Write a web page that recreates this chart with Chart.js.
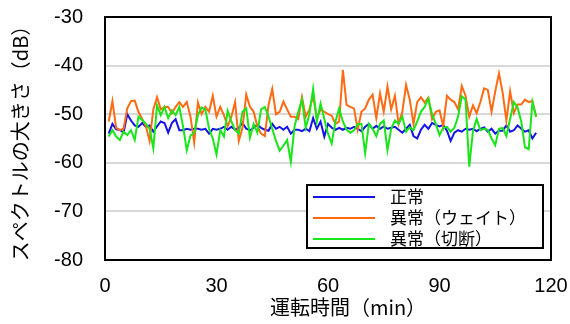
<!DOCTYPE html>
<html>
<head>
<meta charset="utf-8">
<script src="https://cdn.jsdelivr.net/npm/chart.js@4"></script>
<style>
  body { margin: 0; background: #fff; }
</style>
</head>
<body>
<canvas id="spectrum_chart" width="570" height="324"></canvas>
<script>
// 運転時間 (min)
const times = [
  1, 2, 3, 4, 5, 6, 7, 8, 9, 10, 11, 12, 13, 14, 15, 16, 17, 18, 19, 20,
  21, 22, 23, 24, 25, 26, 27, 28, 29, 30, 31, 32, 33, 34, 35, 36, 37, 38, 39, 40,
  41, 42, 43, 44, 45, 46, 47, 48, 49, 50, 51, 52, 53, 54, 55, 56, 57, 58, 59, 60,
  61, 62, 63, 64, 65, 66, 67, 68, 69, 70, 71, 72, 73, 74, 75, 76, 77, 78, 79, 80,
  81, 82, 83, 84, 85, 86, 87, 88, 89, 90, 91, 92, 93, 94, 95, 96, 97, 98, 99, 100,
  101, 102, 103, 104, 105, 106, 107, 108, 109, 110, 111, 112, 113, 114, 115, 116
];

const normal = [
  -54.0, -52.0, -53.1, -53.2, -53.8, -50.0, -51.3, -52.3, -52.6, -51.8, -52.6, -52.3, -53.6, -52.5, -51.5, -51.8, -53.8, -51.8, -51.0, -53.3,
  -53.3, -53.0, -53.2, -53.0, -53.0, -53.2, -53.0, -54.0, -53.0, -53.2, -53.0, -52.6, -53.2, -52.6, -53.2, -52.8, -51.8, -53.0, -53.3, -52.8,
  -52.2, -52.8, -53.2, -53.4, -52.0, -53.0, -52.6, -53.2, -52.6, -54.0, -53.2, -53.2, -53.5, -53.0, -53.5, -50.8, -53.0, -51.5, -54.6, -52.0,
  -52.8, -53.2, -52.8, -53.2, -52.8, -53.0, -52.6, -53.0, -53.5, -52.6, -52.0, -53.0, -52.4, -53.0, -52.5, -53.0, -52.8, -52.6, -53.2, -53.8,
  -53.0, -52.2, -54.5, -55.0, -53.2, -52.2, -53.0, -51.8, -52.2, -52.5, -52.2, -53.4, -55.5, -53.8, -53.3, -53.6, -53.0, -53.2, -53.0, -53.5,
  -53.0, -52.7, -53.6, -53.0, -54.0, -53.4, -53.4, -52.3, -53.6, -53.3, -52.3, -53.0, -53.6, -53.3, -55.0, -53.8
];

const weight = [
  -51.5, -47.3, -52.8, -53.3, -53.0, -48.8, -47.3, -47.2, -49.5, -51.0, -52.5, -55.5, -49.0, -46.5, -49.0, -48.5, -48.5, -49.8, -48.5, -47.5,
  -48.5, -47.5, -50.5, -55.8, -47.6, -50.0, -48.5, -49.5, -46.2, -50.5, -48.5, -50.2, -52.5, -50.5, -47.5, -55.5, -52.8, -46.0, -48.5, -49.5,
  -52.5, -54.0, -54.5, -48.1, -44.8, -50.0, -49.5, -47.4, -49.0, -50.5, -50.5, -51.0, -46.5, -50.5, -49.0, -46.2, -50.8, -49.0, -49.5, -50.0,
  -50.3, -52.0, -51.5, -40.9, -48.1, -48.5, -48.8, -53.2, -49.5, -48.8, -47.0, -46.0, -50.8, -45.7, -49.5, -44.3, -49.0, -46.2, -52.0, -49.5,
  -44.0, -47.0, -52.0, -47.5, -46.5, -47.6, -46.6, -51.0, -49.5, -49.2, -52.5, -46.2, -47.0, -47.5, -49.0, -44.2, -46.2, -50.5, -48.2, -49.8,
  -47.5, -44.7, -45.0, -49.5, -45.3, -41.6, -45.6, -51.3, -45.3, -49.8, -48.0, -48.0, -47.0, -47.5, -47.3, -50.5
];

const cut = [
  -54.6, -53.3, -54.6, -55.3, -53.6, -54.3, -53.3, -55.3, -50.5, -51.2, -52.0, -53.0, -57.0, -48.2, -50.2, -48.5, -50.8, -49.2, -50.2, -48.5,
  -52.5, -57.4, -54.4, -53.8, -50.2, -48.6, -49.0, -53.0, -55.0, -58.3, -53.3, -54.6, -49.3, -51.5, -53.3, -54.0, -49.5, -48.8, -54.8, -52.0,
  -53.8, -49.0, -48.5, -50.5, -53.0, -55.5, -57.5, -56.5, -55.3, -59.8, -52.5, -49.5, -47.0, -52.8, -50.0, -44.8, -51.5, -47.8, -51.0, -54.0,
  -56.0, -51.5, -48.8, -51.5, -53.2, -53.8, -53.3, -52.0, -52.0, -58.0, -52.0, -53.0, -54.5, -52.0, -51.3, -57.4, -53.0, -51.3, -52.0, -50.5,
  -53.6, -52.7, -53.3, -51.5, -49.5, -48.5, -46.8, -50.0, -52.0, -54.3, -52.8, -52.6, -53.6, -52.8, -50.5, -46.3, -47.0, -60.8, -53.5, -51.0,
  -53.3, -53.0, -53.2, -55.0, -56.4, -53.0, -52.8, -54.5, -51.0, -47.5, -48.6, -51.5, -56.8, -57.2, -47.5, -50.5
];

const seriesNames = ['正常', '異常（ウェイト）', '異常（切断）'];
const seriesColors = ['#1414e6', '#ff6a13', '#19e619'];
const xTitle = '運転時間（min）';
const yTitle = 'スペクトルの大きさ（dB）';

const numFont = "'Liberation Sans', 'Noto Sans CJK JP', sans-serif";
const jpFont = "'Noto Sans CJK JP', sans-serif";

const toPoints = (vals) => vals.map((v, i) => ({ x: times[i], y: v }));

// black frame round the plot area
const plotFrame = {
  id: 'plotFrame',
  afterDatasetsDraw(chart) {
    const { ctx, chartArea: a } = chart;
    ctx.save();
    ctx.strokeStyle = '#000';
    ctx.lineWidth = 2;
    ctx.strokeRect(a.left, a.top, a.right - a.left, a.bottom - a.top);
    ctx.restore();
  }
};

// boxed legend inside the plot, plus x title
const boxLegend = {
  id: 'boxLegend',
  afterDraw(chart) {
    const { ctx, chartArea: a } = chart;
    const right = a.right - 8, bottom = a.bottom - 12;
    const w = 236, h = 63;
    const left = right - w, top = bottom - h;
    ctx.save();
    ctx.fillStyle = '#fff';
    ctx.fillRect(left, top, w, h);
    ctx.strokeStyle = '#000';
    ctx.lineWidth = 2;
    ctx.strokeRect(left, top, w, h);
    ctx.font = '17px ' + jpFont;
    ctx.textBaseline = 'middle';
    chart.data.datasets.forEach((ds, i) => {
      const y = top + 12 + i * 21;
      ctx.strokeStyle = ds.borderColor;
      ctx.lineWidth = 2;
      ctx.beginPath();
      ctx.moveTo(left + 6, y);
      ctx.lineTo(left + 68, y);
      ctx.stroke();
      ctx.fillStyle = '#000';
      ctx.fillText(ds.label, left + 83, y);
    });
    ctx.font = '20px ' + jpFont;
    ctx.textAlign = 'center';
    ctx.fillText(xTitle, 348, 307);
    ctx.restore();
  }
};

const ctx = document.getElementById('spectrum_chart');
new Chart(ctx, {
  type: 'line',
  data: {
    datasets: [normal, weight, cut].map((vals, i) => ({
      label: seriesNames[i],
      data: toPoints(vals),
      borderColor: seriesColors[i],
      backgroundColor: seriesColors[i],
      borderWidth: 2,
      pointRadius: 0,
      tension: 0,
      order: 3 - i
    }))
  },
  options: {
    responsive: false,
    animation: false,
    layout: { padding: { top: 17, right: 19, left: 0, bottom: 0 } },
    plugins: {
      legend: { display: false },
      tooltip: { enabled: false }
    },
    scales: {
      x: {
        type: 'linear',
        min: 0,
        max: 120,
        afterFit: (s) => { s.height = 64; },
        // tick padding feeds into the side padding, so push labels with an invisible tick instead
        ticks: { stepSize: 30, padding: 2, color: '#000', font: { size: 20, family: numFont } },
        grid: { color: 'rgba(0,0,0,0)', drawTicks: true, tickLength: 12, tickColor: 'rgba(0,0,0,0)' },
        border: { display: false }
      },
      y: {
        min: -80,
        max: -30,
        afterFit: (s) => { s.width = 105; },
        ticks: { stepSize: 10, padding: 2, color: '#000', font: { size: 20, family: numFont } },
        grid: { color: '#d9d9d9', lineWidth: 2, drawTicks: true, tickLength: 20, tickColor: 'rgba(0,0,0,0)' },
        border: { display: false },
        title: {
          display: true,
          text: yTitle,
          color: '#000',
          font: { size: 20, family: jpFont },
          padding: { top: 8, bottom: 0 }
        }
      }
    }
  },
  plugins: [plotFrame, boxLegend]
});
</script>
</body>
</html>
